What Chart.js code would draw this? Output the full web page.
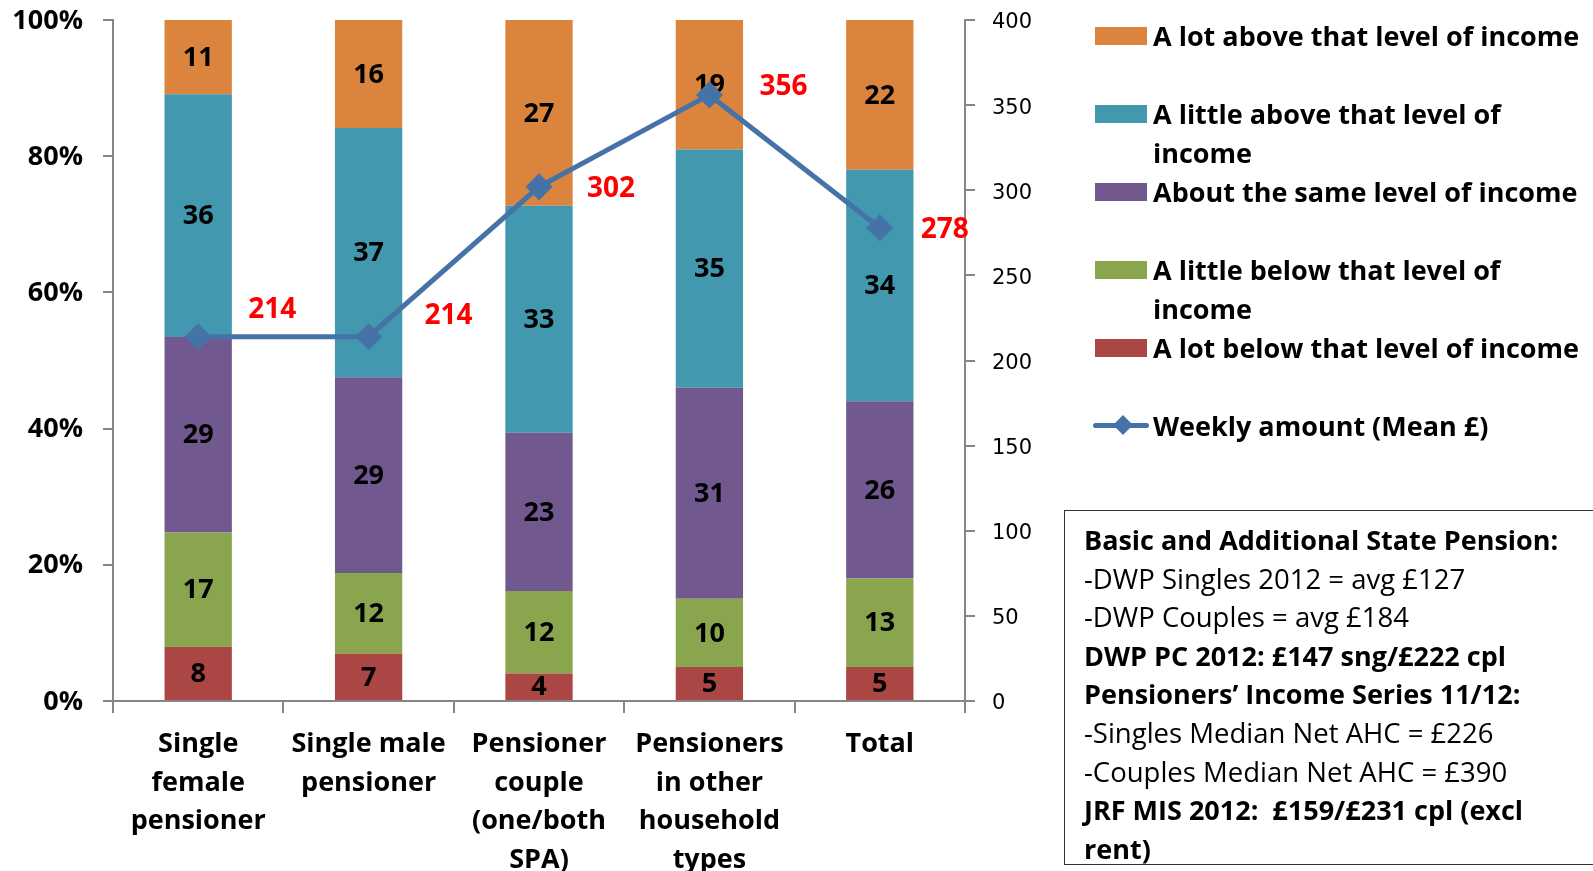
<!DOCTYPE html>
<html>
<head>
<meta charset="utf-8">
<script src="https://cdn.jsdelivr.net/npm/chart.js@4"></script>
<style>
  body { margin: 0; background: #fff; }
  #wrap { position: relative; width: 1593px; height: 871px; overflow: hidden; }
  #legend { position: absolute; left: 1095px; top: 16px; font: bold 27px "Open Sans", sans-serif; color: #000; }
  .item { position: relative; height: 78px; padding-left: 58px; line-height: 39px; white-space: nowrap; }
  .swatch { position: absolute; left: 0; top: 11px; width: 52px; height: 18px; }
  .lineKey { position: absolute; left: -2px; top: 17px; width: 56px; height: 5px; border-radius: 3px; }
  .diamond { position: absolute; left: 21px; top: 12px; width: 14px; height: 14px; transform: rotate(45deg); }
  #note { position: absolute; left: 1064px; top: 510px; width: 620px; height: 355px; box-sizing: border-box;
          border: 1px solid #333; padding: 10px 0 0 19px; font: 27.5px "Open Sans", sans-serif; line-height: 38.6px; color: #000; white-space: nowrap; }
  #note b { font-weight: bold; font-size: 27px; }
</style>
</head>
<body>
<div id="wrap">
  <canvas id="incomeChart"></canvas>
  <div id="legend"></div>
  <div id="note">
    <b>Basic and Additional State Pension:</b><br>
    -DWP Singles 2012 = avg £127<br>
    -DWP Couples = avg £184<br>
    <b>DWP PC 2012: £147 sng/£222 cpl</b><br>
    <b>Pensioners’ Income Series 11/12:</b><br>
    -Singles Median Net AHC = £226<br>
    -Couples Median Net AHC = £390<br>
    <b>JRF MIS 2012:&nbsp;&nbsp;£159/£231 cpl (excl<br>rent)</b>
  </div>
</div>
<script>
const categories = [
  ["Single", "female", "pensioner"],
  ["Single male", "pensioner"],
  ["Pensioner", "couple", "(one/both", "SPA)"],
  ["Pensioners", "in other", "household", "types"],
  ["Total"]
];

const lotBelow = [8, 7, 4, 5, 5];
const littleBelow = [17, 12, 12, 10, 13];
const aboutSame = [29, 29, 23, 31, 26];
const littleAbove = [36, 37, 33, 35, 34];
const lotAbove = [11, 16, 27, 19, 22];
const weeklyMean = [214, 214, 302, 356, 278];

const pctTicks = [0, 20, 40, 60, 80, 100];
const poundTicks = [0, 50, 100, 150, 200, 250, 300, 350, 400];

const barSeries = [
  { label: "A lot below that level of income", values: lotBelow, color: "#AA4643" },
  { label: "A little below that level of income", values: littleBelow, color: "#89A54E" },
  { label: "About the same level of income", values: aboutSame, color: "#71588F" },
  { label: "A little above that level of income", values: littleAbove, color: "#4198AF" },
  { label: "A lot above that level of income", values: lotAbove, color: "#DB843D" }
];

// stacked to 100% like the original, labels keep the raw numbers
const totals = categories.map((c, i) => barSeries.reduce((s, b) => s + b.values[i], 0));

const datasets = barSeries.map(b => ({
  type: "bar",
  label: b.label,
  raw: b.values,
  data: b.values.map((v, i) => v / totals[i] * 100),
  backgroundColor: b.color,
  yAxisID: "y",
  order: 1,
  barPercentage: 0.79,
  categoryPercentage: 0.5
}));

datasets.push({
  type: "line",
  label: "Weekly amount (Mean £)",
  data: weeklyMean,
  borderColor: "#4572A7",
  backgroundColor: "#4572A7",
  borderWidth: 5,
  pointStyle: "rectRot",
  pointRadius: 10,
  yAxisID: "y1",
  order: 0
});

// offsets of the red value labels next to each line point
const lineLabelOffsets = [[74, -28], [80, -22], [72, 1], [74, -9], [65, 1]];

const labelPlugin = {
  id: "valueLabels",
  afterDatasetDraw(chart, args) {
    const ds = chart.data.datasets[args.index];
    if (ds.type !== "bar") return;
    const ctx = chart.ctx;
    ctx.save();
    ctx.font = "bold 27px 'Open Sans'";
    ctx.fillStyle = "#000";
    ctx.textAlign = "center";
    ctx.textBaseline = "middle";
    args.meta.data.forEach((bar, j) => {
      ctx.fillText(String(ds.raw[j]), bar.x, (bar.y + bar.base) / 2 + 1);
    });
    ctx.restore();
  },
  afterDatasetsDraw(chart) {
    const ctx = chart.ctx;
    ctx.save();
    ctx.font = "bold 28px 'Open Sans'";
    ctx.fillStyle = "#FF0000";
    ctx.textAlign = "center";
    ctx.textBaseline = "middle";
    chart.data.datasets.forEach((ds, i) => {
      if (ds.type !== "line") return;
      chart.getDatasetMeta(i).data.forEach((pt, j) => {
        const off = lineLabelOffsets[j];
        ctx.fillText(String(ds.data[j]), pt.x + off[0], pt.y + off[1] + 1);
      });
    });
    ctx.restore();
  }
};

document.addEventListener("DOMContentLoaded", () => {
  const canvas = document.getElementById("incomeChart");
  const axisColor = "#868686";
  const noOverflow = s => { s.paddingTop = 0; s.paddingBottom = 0; };

  new Chart(canvas, {
    data: { labels: categories, datasets: datasets },
    options: {
      responsive: true,
      maintainAspectRatio: false,
      animation: false,
      layout: { padding: { top: 20, right: 548, left: 0, bottom: 0 } },
      plugins: { legend: { display: false }, tooltip: { enabled: false } },
      scales: {
        x: {
          stacked: true,
          border: { color: axisColor, width: 2 },
          grid: { offset: true, drawOnChartArea: false, tickLength: 12, color: axisColor, lineWidth: 2 },
          ticks: { color: "#000", font: { family: "Open Sans", size: 27, weight: "bold", lineHeight: 1.43 },
                   maxRotation: 0, autoSkip: false, padding: 12 },
          afterFit: s => { s.height = 170; s.paddingLeft = 0; s.paddingRight = 0; }
        },
        y: {
          stacked: true,
          position: "left",
          min: 0, max: 100,
          border: { color: axisColor, width: 2 },
          grid: { drawOnChartArea: false, tickLength: 10, color: axisColor, lineWidth: 2 },
          afterBuildTicks: s => { s.ticks = pctTicks.map(v => ({ value: v })); },
          ticks: { color: "#000", font: { family: "Open Sans", size: 27, weight: "bold" }, padding: 20,
                   labelOffset: 1, callback: v => v + "%" },
          afterFit: s => { s.width = 113; noOverflow(s); }
        },
        y1: {
          position: "right",
          min: 0, max: 400,
          border: { color: axisColor, width: 2 },
          grid: { drawOnChartArea: false, tickLength: 10, color: axisColor, lineWidth: 2 },
          afterBuildTicks: s => { s.ticks = poundTicks.map(v => ({ value: v })); },
          ticks: { color: "#000", font: { family: "DejaVu Sans", size: 21 }, padding: 17, labelOffset: 3 },
          afterFit: s => { s.width = 80; noOverflow(s); }
        }
      }
    },
    plugins: [labelPlugin]
  });

  // legend in the order shown in the original (top of stack first)
  const legend = document.getElementById("legend");
  const legendText = [
    "A lot above that level of income",
    "A little above that level of<br>income",
    "About the same level of income",
    "A little below that level of<br>income",
    "A lot below that level of income"
  ];
  barSeries.slice().reverse().forEach((b, i) => {
    const item = document.createElement("div");
    item.className = "item";
    item.innerHTML = '<span class="swatch" style="background:' + b.color + '"></span>' + legendText[i];
    legend.appendChild(item);
  });
  const lineItem = document.createElement("div");
  lineItem.className = "item";
  lineItem.innerHTML = '<span class="lineKey" style="background:#4572A7"></span>' +
    '<span class="diamond" style="background:#4572A7"></span>Weekly amount (Mean £)';
  legend.appendChild(lineItem);
});
</script>
</body>
</html>
